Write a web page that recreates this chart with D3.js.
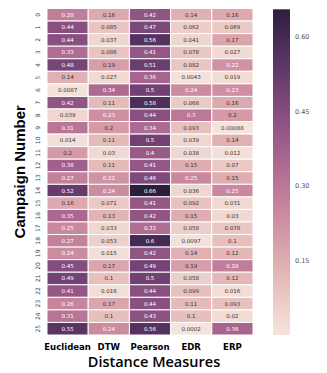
<!DOCTYPE html>
<html>
<head>
<meta charset="utf-8">
<script src="https://cdn.jsdelivr.net/npm/d3@7"></script>
<style>
  body { margin: 0; background: #fff; }
  svg { display: block; }
</style>
</head>
<body>
<svg id="heatmap" width="327" height="373"></svg>
<script>
// one array per distance measure, rows are campaigns 0..25
var campaigns = d3.range(26).map(String);
var measures = ["Euclidean", "DTW", "Pearson", "EDR", "ERP"];
var euclidean = [0.28, 0.44, 0.44, 0.33, 0.48, 0.14, 0.0087, 0.42, 0.039, 0.31, 0.014, 0.2, 0.38,
                 0.27, 0.52, 0.16, 0.35, 0.25, 0.27, 0.24, 0.45, 0.49, 0.41, 0.26, 0.31, 0.55];
var dtw = [0.16, 0.085, 0.037, 0.086, 0.19, 0.027, 0.34, 0.11, 0.23, 0.2, 0.11, 0.03, 0.11,
           0.22, 0.24, 0.071, 0.13, 0.033, 0.053, 0.015, 0.17, 0.1, 0.016, 0.17, 0.1, 0.24];
var pearson = [0.42, 0.47, 0.56, 0.41, 0.51, 0.36, 0.5, 0.58, 0.44, 0.34, 0.5, 0.4, 0.41,
               0.46, 0.66, 0.41, 0.42, 0.33, 0.6, 0.42, 0.49, 0.5, 0.44, 0.44, 0.43, 0.56];
var edr = [0.14, 0.062, 0.041, 0.078, 0.082, 0.0043, 0.24, 0.068, 0.3, 0.093, 0.039, 0.038, 0.15,
           0.25, 0.036, 0.092, 0.15, 0.058, 0.0097, 0.14, 0.19, 0.058, 0.099, 0.11, 0.1, 0.0002];
var erp = [0.16, 0.069, 0.17, 0.027, 0.22, 0.019, 0.23, 0.16, 0.2, 0.00088, 0.14, 0.012, 0.07,
           0.15, 0.25, 0.031, 0.03, 0.078, 0.1, 0.12, 0.28, 0.12, 0.016, 0.093, 0.02, 0.36];
var cbarTicks = [0.15, 0.30, 0.45, 0.60];

var series = [euclidean, dtw, pearson, edr, erp];

// cubehelix palette like seaborn's, light end pushed a bit paler
function cubehelix(t) {
  var light = 0.91, dark = 0.15, start = 0, rot = 0.4, hue = 0.8;
  var x = light + (dark - light) * t;
  var a = hue * x * (1 - x) / 2;
  var phi = 2 * Math.PI * (start / 3 + rot * x);
  var c = Math.cos(phi), s = Math.sin(phi);
  var r = x + a * (-0.14861 * c + 1.78277 * s);
  var g = x + a * (-0.29227 * c - 0.90649 * s);
  var b = x + a * (1.97294 * c);
  var f = function(v) { return Math.round(Math.max(0, Math.min(1, v)) * 255); };
  return "rgb(" + f(r) + "," + f(g) + "," + f(b) + ")";
}

var cells = [];
measures.forEach(function(m, j) {
  campaigns.forEach(function(c, i) {
    cells.push({measure: m, campaign: c, value: series[j][i]});
  });
});

var vmin = d3.min(cells, function(d) { return d.value; });
var vmax = 0.655;

var svg = d3.select("#heatmap");

var x = d3.scaleBand().domain(measures).range([47, 253]);
var y = d3.scaleBand().domain(campaigns).range([8.5, 335]);
var color = d3.scaleSequential(cubehelix).domain([vmin, vmax]);

svg.append("g")
  .selectAll("rect")
  .data(cells)
  .enter().append("rect")
  .attr("x", function(d) { return x(d.measure); })
  .attr("y", function(d) { return y(d.campaign); })
  .attr("width", x.bandwidth())
  .attr("height", y.bandwidth())
  .attr("fill", function(d) { return color(d.value); })
  .attr("stroke", "#fff")
  .attr("stroke-width", 1);

svg.append("g")
  .attr("font-family", "DejaVu Sans, sans-serif")
  .attr("font-size", 5.5)
  .attr("text-anchor", "middle")
  .selectAll("text")
  .data(cells)
  .enter().append("text")
  .attr("x", function(d) { return x(d.measure) + x.bandwidth() / 2; })
  .attr("y", function(d) { return y(d.campaign) + y.bandwidth() / 2; })
  .attr("dy", "0.35em")
  .attr("fill", function(d) { return d.value > 0.21 ? "#fff" : "#333"; })
  .text(function(d) { return d.value; });

// row labels, rotated like matplotlib's vertical ticks
svg.append("g")
  .attr("font-family", "DejaVu Sans, sans-serif")
  .attr("font-size", 6)
  .attr("fill", "#444")
  .attr("text-anchor", "middle")
  .selectAll("text")
  .data(campaigns)
  .enter().append("text")
  .attr("transform", function(d) {
    return "translate(38," + (y(d) + y.bandwidth() / 2) + ") rotate(-90)";
  })
  .attr("dy", "0.35em")
  .text(function(d) { return d; });

svg.append("g")
  .attr("font-family", "DejaVu Sans Condensed, DejaVu Sans, sans-serif")
  .attr("font-weight", "bold")
  .attr("font-size", 9.5)
  .attr("text-anchor", "middle")
  .selectAll("text")
  .data(measures)
  .enter().append("text")
  .attr("x", function(d) { return x(d) + x.bandwidth() / 2; })
  .attr("y", 350)
  .text(function(d) { return d; });

svg.append("text")
  .attr("x", 154)
  .attr("y", 367)
  .attr("text-anchor", "middle")
  .attr("font-family", "Open Sans, sans-serif")
  .attr("font-weight", 600)
  .attr("font-size", 14.5)
  .text("Distance Measures");

svg.append("text")
  .attr("transform", "translate(25," + ((8.5 + 335) / 2) + ") rotate(-90)")
  .attr("text-anchor", "middle")
  .attr("font-family", "Liberation Sans, Arial, sans-serif")
  .attr("font-weight", "bold")
  .attr("font-size", 15)
  .text("Campaign Number");

// colorbar
var cb = d3.scaleLinear().domain([vmin, vmax]).range([335, 9.3]);
var grad = svg.append("defs").append("linearGradient")
  .attr("id", "cbar").attr("x1", 0).attr("y1", 1).attr("x2", 0).attr("y2", 0);
grad.selectAll("stop")
  .data(d3.range(0, 1.0001, 0.05))
  .enter().append("stop")
  .attr("offset", function(t) { return t; })
  .attr("stop-color", function(t) { return cubehelix(t); });

svg.append("rect")
  .attr("x", 273)
  .attr("y", cb(vmax))
  .attr("width", 17)
  .attr("height", cb(vmin) - cb(vmax))
  .attr("fill", "url(#cbar)");

svg.append("g")
  .attr("font-family", "DejaVu Sans, sans-serif")
  .attr("font-size", 6.5)
  .attr("fill", "#555")
  .selectAll("text")
  .data(cbarTicks)
  .enter().append("text")
  .attr("x", 295)
  .attr("y", function(d) { return cb(d); })
  .attr("dy", "0.35em")
  .text(function(d) { return d.toFixed(2); });
</script>
</body>
</html>
